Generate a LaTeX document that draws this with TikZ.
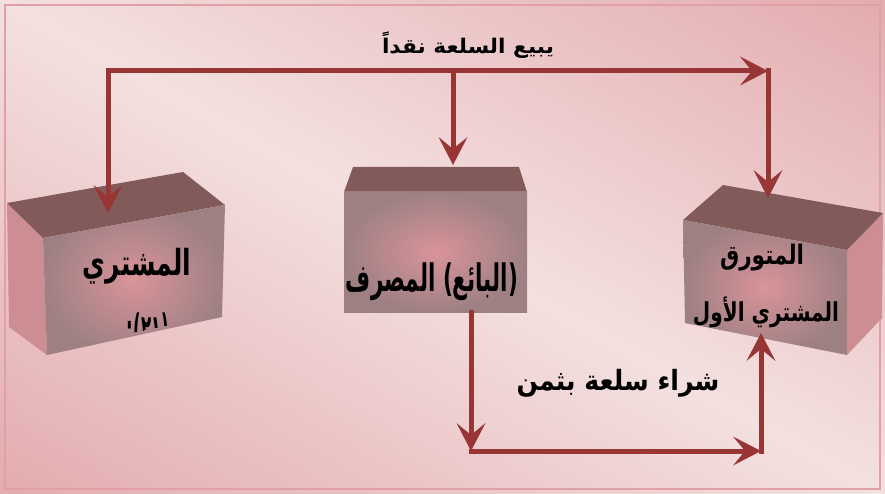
\documentclass[tikz,border=0pt]{standalone}
\usepackage{fontspec}
\usepackage{graphicx}
\usetikzlibrary{arrows.meta}
\newfontfamily\arabicfont[Script=Arabic]{DejaVu Sans}
\TeXXeTstate=1
\definecolor{bgdark}{RGB}{218,144,148}
\definecolor{bglight}{RGB}{244,224,224}
\definecolor{arrowc}{RGB}{152,54,54}
\definecolor{topface}{RGB}{131,90,90}
\definecolor{sideface}{RGB}{204,142,147}
\definecolor{frontout}{RGB}{158,128,131}
\definecolor{frontin}{RGB}{217,148,153}
\definecolor{framec}{RGB}{224,160,166}
\newcommand{\artext}[3]{\resizebox*{#1}{#2}{\arabicfont\bfseries #3}}
\begin{document}
\begin{tikzpicture}[x=1pt,y=-1pt,
  arr/.style={draw=arrowc, line width=5pt, line cap=rect,
    -{Stealth[length=28pt,width=29pt,inset=12pt,line width=0pt]}},
  lbl/.style={inner sep=0pt, text=black},
  topf/.style={fill=topface},
  sidef/.style={fill=sideface},
  frontf/.style={inner color=frontin, outer color=frontout}]
\useasboundingbox (0,0) rectangle (885,494);
\begin{scope}
\clip (0,0) rectangle (885,494);
\begin{scope}[transform canvas={rotate around={-29.2:(442.5,247)}}]
\shade[top color=bgdark, bottom color=bgdark, middle color=bglight] (-200,-413) rectangle (1085,907);
\end{scope}
\end{scope}
\draw[framec, line width=2pt] (5,5) rectangle (880,489);

% left box
\fill[sidef] (7,203) -- (43,238) -- (47,355) -- (9,327) -- cycle;
\fill[topf] (7,203) -- (183,172) -- (225,205) -- (43,238) -- cycle;
\shade[frontf] (43,238) -- (225,205) -- (222,317) -- (47,355) -- cycle;
% middle box
\fill[topf] (344,192) -- (353,167) -- (519,167) -- (527,192) -- cycle;
\shade[frontf] (344,192) rectangle (527,312);
% right box
\fill[sidef] (847,250) -- (883,213) -- (882,318) -- (847,355) -- cycle;
\fill[topf] (683,220) -- (723,185) -- (883,213) -- (847,250) -- cycle;
\shade[frontf] (683,220) -- (847,250) -- (847,355) -- (685,323) -- cycle;

% texts
\node[lbl] (sell) at (468,45) {\artext{172pt}{26pt}{\beginR يبيع السلعة نقداً\endR}};
\node[lbl] (buy) at (618,383) {\artext{203pt}{28pt}{\beginR شراء سلعة بثمن\endR}};
\node[lbl] (b1) at (137,266) {\artext{108pt}{36pt}{\beginR المشتري\endR}};
\begin{scope}
\clip (43,238) -- (225,205) -- (222,313) -- (47,351) -- cycle;
\node[lbl] (b1b) at (148,331) {\artext{42pt}{36pt}{\beginR (٢١):\endR}};
\end{scope}
\node[lbl] (b2) at (432,282) {\artext{172pt}{38pt}{\beginR (البائع) المصرف\endR}};
\node[lbl] (b3a) at (762,258) {\artext{84pt}{27pt}{\beginR المتورق\endR}};
\node[lbl] (b3b) at (766,312) {\artext{146pt}{31pt}{\beginR المشتري الأول\endR}};

% connectors
\coordinate (tl) at (108,71);
\coordinate (tm) at (453,71);
\coordinate (tr) at (768,71);
\coordinate (e1) at (108,213);
\coordinate (e2) at (453,165);
\coordinate (e3) at (768,198);
\coordinate (bs) at (471,312);
\coordinate (bc) at (471,451);
\coordinate (br) at (761,451);
\coordinate (be) at (761,333);
\draw[arr] (tl) -- (tr);
\draw[arr] (tl) -- (e1);
\draw[arr] (tm) -- (e2);
\draw[arr] (tr) -- (e3);
\draw[arr] (bs) -- (bc);
\draw[arr] (bc) -- (br);
\draw[arr] (br) -- (be);
\end{tikzpicture}
\end{document}
